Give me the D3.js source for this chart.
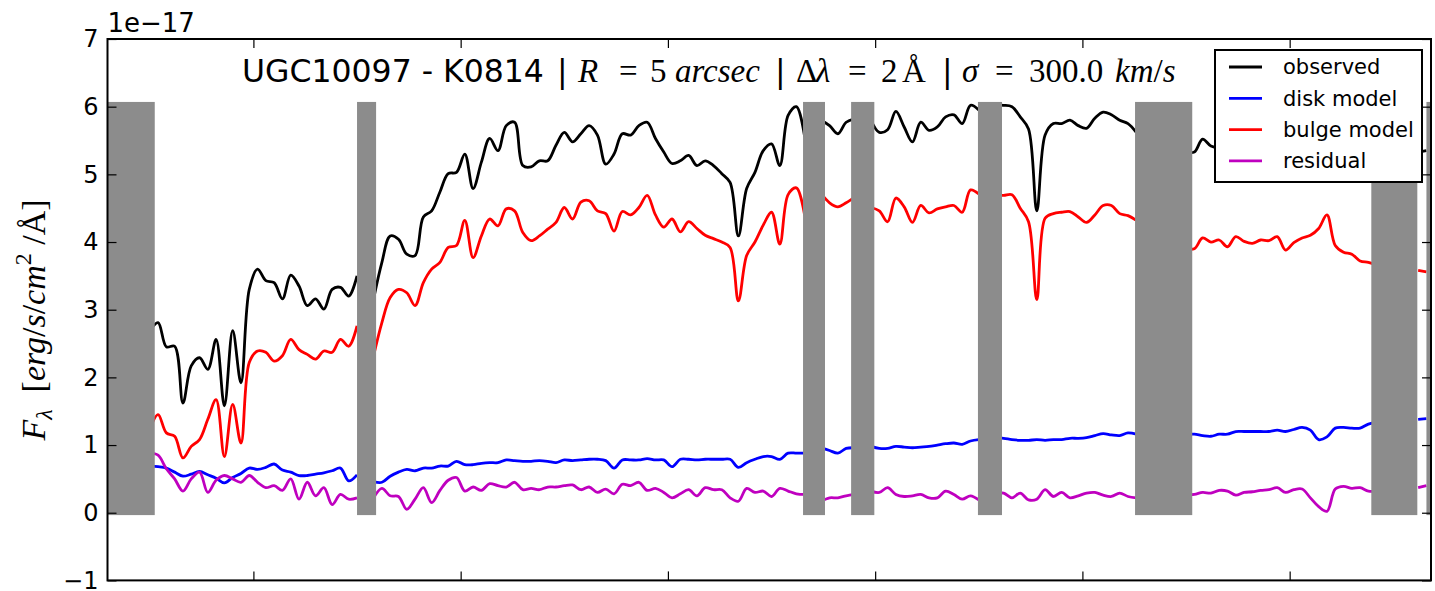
<!DOCTYPE html>
<html lang="en">
<head>
  <title>UGC10097 - K0814 spectrum</title>
  <meta charset="utf-8">
  <script src="https://d3js.org/d3.v7.min.js" charset="utf-8"></script>
  <style>
    body { margin: 0; background: #fff; }
    text { fill: #000; }
  </style>
</head>
<body>
  <script>
  // spectrum sampled every 20 A starting at 3650 A, in units of 1e-17 erg/s/cm2/A
  // null = masked wavelength (grey bands)
  var waveStart = 3650;
  var waveStep = 20;

  var observed = [null, null, null, null, null,
    2.69, 2.81, 2.45, 2.46, 1.62, 2.17, 2.29, 2.12, 2.56, 1.58, 2.69, 1.92, 3.30, 3.60, 3.43,
    3.40, 3.16, 3.51, 3.35, 3.06, 3.16, 3.01, 3.30, 3.33, 3.20, 3.50, null,
    3.16, 3.70, 4.09, 4.04, 3.82, 3.80, 4.37, 4.46, 4.74, 5.01, 5.03, 5.30, 4.79, 5.18, 5.53,
    5.35, 5.72, 5.77, 5.13, 5.11, 5.20, 5.20, 5.43, 5.62, 5.48, 5.60, 5.72, 5.58, 5.15, 5.30,
    5.60, 5.58, 5.72, 5.77, 5.53, 5.33, 5.16, 5.20, 5.28, 5.13, 5.20, 5.13, 5.01, 4.88, 4.09,
    4.79, 5.03, 5.35, 5.45, 5.13, 5.87, 6.00, 5.55, null,
    5.80, 5.72, 5.60, 5.77, 5.82, null,
    5.80, 5.62, 5.66, 5.93, 5.70, 5.48, 5.77, 5.65, 5.70, 5.85, 5.88, 5.75, 6.02, 5.95, null,
    6.02, 6.02, 6.00, 5.85, 5.67, 4.46, 5.58, 5.75, 5.75, 5.80, 5.72, 5.68, 5.83, 5.92, 5.88,
    5.80, 5.75, 5.62, null, null, null, null, null,
    5.33, 5.33, 5.52, 5.42, 5.40, 5.45, 5.50, 5.48, 5.42, 5.50, 5.52, 5.55, 5.45, 5.50, 5.58,
    5.52, 5.30, 5.45, 5.55, 5.48, 5.42, 5.35, 5.38, 5.38, null, null, null, null,
    5.33, 5.35];

  var diskModel = [null, null, null, null, null,
    0.69, 0.68, 0.66, 0.60, 0.54, 0.57, 0.61, 0.56, 0.51, 0.44, 0.52, 0.58, 0.66, 0.64, 0.67,
    0.72, 0.63, 0.60, 0.55, 0.55, 0.57, 0.59, 0.62, 0.66, 0.47, 0.56, null,
    0.46, 0.45, 0.54, 0.60, 0.64, 0.62, 0.66, 0.66, 0.69, 0.69, 0.76, 0.71, 0.71, 0.73, 0.74,
    0.74, 0.78, 0.77, 0.76, 0.76, 0.77, 0.76, 0.74, 0.78, 0.77, 0.78, 0.79, 0.79, 0.77, 0.66,
    0.78, 0.78, 0.78, 0.80, 0.78, 0.78, 0.68, 0.79, 0.79, 0.78, 0.79, 0.79, 0.79, 0.79, 0.67,
    0.74, 0.79, 0.83, 0.83, 0.79, 0.88, 0.88, 0.88, null,
    0.96, 0.92, 0.88, 0.95, 0.96, null,
    0.98, 0.95, 0.95, 0.98, 0.97, 0.96, 0.97, 0.98, 1.00, 1.02, 1.03, 1.01, 1.06, 1.08, null,
    1.11, 1.10, 1.08, 1.07, 1.07, 1.08, 1.07, 1.08, 1.08, 1.10, 1.10, 1.11, 1.14, 1.17, 1.15,
    1.14, 1.18, 1.16, null, null, null, null, null,
    1.16, 1.16, 1.14, 1.13, 1.16, 1.16, 1.20, 1.20, 1.20, 1.20, 1.20, 1.22, 1.20, 1.23, 1.26,
    1.22, 1.08, 1.12, 1.25, 1.26, 1.25, 1.25, 1.31, 1.33, null, null, null, null,
    1.38, 1.39];

  var bulgeModel = [null, null, null, null, null,
    1.23, 1.45, 1.18, 1.13, 0.81, 0.98, 1.08, 1.38, 1.67, 0.83, 1.60, 1.03, 2.22, 2.39, 2.37,
    2.24, 2.32, 2.56, 2.41, 2.34, 2.27, 2.39, 2.37, 2.56, 2.46, 2.76, null,
    2.32, 2.81, 3.18, 3.30, 3.25, 3.06, 3.40, 3.60, 3.70, 3.92, 3.95, 4.32, 3.77, 4.09, 4.34,
    4.24, 4.49, 4.46, 4.14, 4.02, 4.09, 4.19, 4.29, 4.51, 4.34, 4.59, 4.61, 4.46, 4.42, 4.16,
    4.45, 4.40, 4.51, 4.69, 4.40, 4.22, 4.34, 4.15, 4.30, 4.20, 4.10, 4.05, 4.00, 3.92, 3.13,
    3.80, 4.00, 4.25, 4.44, 3.97, 4.70, 4.80, 4.39, null,
    4.71, 4.58, 4.52, 4.58, 4.66, null,
    4.51, 4.46, 4.30, 4.65, 4.52, 4.29, 4.54, 4.43, 4.49, 4.52, 4.54, 4.44, 4.77, 4.71, null,
    4.69, 4.69, 4.70, 4.50, 4.30, 3.15, 4.35, 4.42, 4.44, 4.45, 4.37, 4.29, 4.40, 4.54, 4.54,
    4.42, 4.39, 4.32, null, null, null, null, null,
    3.90, 3.90, 4.06, 4.00, 4.03, 3.93, 4.08, 4.01, 3.98, 4.03, 4.02, 4.08, 3.88, 3.99, 4.06,
    4.10, 4.20, 4.40, 3.95, 3.85, 3.82, 3.72, 3.70, 3.66, null, null, null, null,
    3.58, 3.56];

  var residual = [null, null, null, null, null,
    0.88, 0.85, 0.65, 0.50, 0.32, 0.50, 0.60, 0.30, 0.48, 0.55, 0.50, 0.45, 0.55, 0.45, 0.37,
    0.40, 0.33, 0.50, 0.20, 0.45, 0.25, 0.37, 0.12, 0.27, 0.20, 0.22, null,
    0.22, 0.36, 0.25, 0.24, 0.05, 0.20, 0.37, 0.15, 0.33, 0.48, 0.52, 0.32, 0.38, 0.33, 0.43,
    0.40, 0.38, 0.45, 0.34, 0.36, 0.34, 0.38, 0.38, 0.40, 0.41, 0.34, 0.38, 0.30, 0.35, 0.28,
    0.42, 0.40, 0.45, 0.33, 0.36, 0.30, 0.22, 0.28, 0.34, 0.25, 0.37, 0.34, 0.34, 0.22, 0.17,
    0.36, 0.30, 0.32, 0.24, 0.36, 0.32, 0.28, 0.27, null,
    0.17, 0.22, 0.22, 0.25, 0.27, null,
    0.32, 0.30, 0.37, 0.27, 0.24, 0.25, 0.27, 0.22, 0.22, 0.32, 0.27, 0.20, 0.25, 0.19, null,
    0.29, 0.29, 0.22, 0.29, 0.19, 0.20, 0.34, 0.24, 0.30, 0.22, 0.25, 0.29, 0.30, 0.26, 0.24,
    0.29, 0.24, 0.22, null, null, null, null, null,
    0.27, 0.27, 0.30, 0.29, 0.33, 0.32, 0.26, 0.30, 0.31, 0.33, 0.34, 0.37, 0.30, 0.34, 0.35,
    0.22, 0.09, 0.02, 0.35, 0.39, 0.36, 0.37, 0.32, 0.32, null, null, null, null,
    0.37, 0.40];

  // masked wavelength ranges [from, to] in A, filled between the data min and max
  var maskStart = [3648, 4250, 5326, 5442, 5748, 6127, 6697, 6830];
  var maskEnd   = [3762, 4296, 5379, 5498, 5806, 6265, 6808, 6841];
  var maskLow = -0.035;
  var maskHigh = 6.07;

  var seriesNames = ["observed", "disk model", "bulge model", "residual"];
  var seriesColors = ["#000000", "#0000ff", "#ff0000", "#bf00bf"];
  var seriesValues = [observed, diskModel, bulgeModel, residual];

  var xTicks = [4000, 4500, 5000, 5500, 6000, 6500];
  var yTicks = [-1, 0, 1, 2, 3, 4, 5, 6, 7];

  var w = 1435, h = 591;
  var mL = 107.5, mR = 1431, mT = 39, mB = 580.4;

  var x = d3.scaleLinear().domain([3648, 6841]).range([mL, mR]);
  var y = d3.scaleLinear().domain([-1, 7]).range([mB, mT]);

  var svg = d3.select("body").append("svg")
    .attr("width", w)
    .attr("height", h)
    .style("font-family", "'DejaVu Sans', sans-serif");

  svg.append("clipPath").attr("id", "plotclip")
    .append("rect")
    .attr("x", mL).attr("y", mT)
    .attr("width", mR - mL).attr("height", mB - mT);

  var plot = svg.append("g").attr("clip-path", "url(#plotclip)");

  var line = d3.line()
    .defined(function(d) { return d.v != null; })
    .curve(d3.curveCatmullRom.alpha(0.5))
    .x(function(d) { return x(d.w); })
    .y(function(d) { return y(d.v); });

  seriesValues.forEach(function(vals, k) {
    var pts = vals.map(function(v, i) { return {w: waveStart + i * waveStep, v: v}; });
    plot.append("path")
      .datum(pts)
      .attr("d", line)
      .attr("fill", "none")
      .attr("stroke", seriesColors[k])
      .attr("stroke-width", 2.8)
      .attr("stroke-linejoin", "round");
  });

  // masked regions on top of the lines
  plot.selectAll("rect.mask")
    .data(maskStart)
    .enter()
    .append("rect")
    .attr("class", "mask")
    .attr("x", function(d) { return x(d); })
    .attr("width", function(d, i) { return x(maskEnd[i]) - x(d); })
    .attr("y", y(maskHigh))
    .attr("height", y(maskLow) - y(maskHigh))
    .attr("fill", "#8c8c8c");

  // axes, ticks pointing inward
  var yLeft = d3.axisLeft(y).tickValues(yTicks).tickSizeInner(-9).tickSizeOuter(0).tickPadding(9);
  var gl = svg.append("g").attr("transform", "translate(" + mL + ",0)").call(yLeft);
  gl.selectAll("text").style("font-size", "24px").style("font-family", "'DejaVu Sans', sans-serif");

  var yRight = d3.axisRight(y).tickValues(yTicks).tickSizeInner(-9).tickSizeOuter(0).tickFormat("");
  svg.append("g").attr("transform", "translate(" + mR + ",0)").call(yRight);

  var xBottom = d3.axisBottom(x).tickValues(xTicks).tickSizeInner(-9).tickSizeOuter(0).tickFormat("");
  svg.append("g").attr("transform", "translate(0," + mB + ")").call(xBottom);

  var xTop = d3.axisTop(x).tickValues(xTicks).tickSizeInner(-9).tickSizeOuter(0).tickFormat("");
  svg.append("g").attr("transform", "translate(0," + mT + ")").call(xTop);

  svg.selectAll(".domain").remove();
  svg.selectAll(".tick line").attr("stroke", "#000").attr("stroke-width", 1.2);

  svg.append("rect")
    .attr("x", mL).attr("y", mT)
    .attr("width", mR - mL).attr("height", mB - mT)
    .attr("fill", "none")
    .attr("stroke", "#000")
    .attr("stroke-width", 2);

  // offset text
  svg.append("text")
    .attr("x", mL)
    .attr("y", 32)
    .style("font-size", "26px")
    .text("1e\u221217");

  // title: plain part in sans, math parts in a serif face, each chunk placed where it sits
  var serif = "'Liberation Serif', serif";
  var sans = "'DejaVu Sans', sans-serif";
  var titleParts = [
    ["UGC10097 - K0814", sans, "normal", 242],
    ["|", sans, "normal", 557],
    ["R", serif, "italic", 578],
    ["=", serif, "normal", 619],
    ["5", serif, "normal", 650],
    ["arcsec", serif, "italic", 675],
    ["|", sans, "normal", 775],
    ["\u0394", serif, "normal", 796],
    ["\u03bb", serif, "italic", 816],
    ["=", serif, "normal", 848],
    ["2", serif, "normal", 881],
    ["\u00c5", serif, "normal", 902],
    ["|", sans, "normal", 942],
    ["\u03c3", serif, "italic", 962],
    ["=", serif, "normal", 995],
    ["300.0", serif, "normal", 1029],
    ["km", serif, "italic", 1115],
    ["/", serif, "normal", null],
    ["s", serif, "italic", null]
  ];
  var title = svg.append("text")
    .attr("y", 82);
  titleParts.forEach(function(p) {
    var t = title.append("tspan")
      .style("font-family", p[1])
      .style("font-style", p[2])
      .style("font-size", p[1] == serif ? "33px" : "31.5px")
      .text(p[0]);
    if (p[3] != null) t.attr("x", p[3]);
  });

  // y label
  var ylab = svg.append("text")
    .attr("transform", "translate(45,320) rotate(-90)")
    .attr("text-anchor", "middle")
    .attr("xml:space", "preserve")
    .style("font-family", serif)
    .style("font-size", "34px");
  ylab.append("tspan").style("font-style", "italic").text("F");
  ylab.append("tspan").style("font-style", "italic").style("font-size", "24px").attr("dy", 7).text("\u03bb");
  ylab.append("tspan").attr("dy", -7).text("  [");
  ylab.append("tspan").style("font-style", "italic").text("erg");
  ylab.append("tspan").text("/");
  ylab.append("tspan").style("font-style", "italic").text("s");
  ylab.append("tspan").text("/");
  ylab.append("tspan").style("font-style", "italic").text("cm");
  ylab.append("tspan").style("font-size", "24px").attr("dy", -14).text("2");
  ylab.append("tspan").attr("dy", 14).text(" /\u00c5]");

  // legend
  var lg = svg.append("g");
  lg.append("rect")
    .attr("x", 1215).attr("y", 50)
    .attr("width", 207).attr("height", 132)
    .attr("fill", "#fff")
    .attr("stroke", "#000")
    .attr("stroke-width", 2);
  seriesNames.forEach(function(name, k) {
    var yy = 67 + k * 31.3;
    lg.append("line")
      .attr("x1", 1229).attr("x2", 1262)
      .attr("y1", yy).attr("y2", yy)
      .attr("stroke", seriesColors[k])
      .attr("stroke-width", 2.8);
    lg.append("text")
      .attr("x", 1283).attr("y", yy)
      .attr("dy", "0.35em")
      .style("font-size", "21px")
      .text(name);
  });
  </script>
</body>
</html>
